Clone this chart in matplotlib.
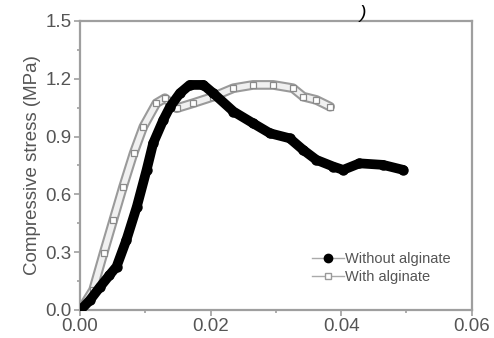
import matplotlib
matplotlib.use("Agg")
import matplotlib.pyplot as plt
from matplotlib.lines import Line2D

# Data
strain_without = [0.0001, 0.0015, 0.0031, 0.0045, 0.0056, 0.0071, 0.0087, 0.0102, 0.0112,
                  0.01275, 0.0138, 0.0153, 0.0168, 0.0189, 0.0204, 0.0235, 0.0265, 0.0291,
                  0.0321, 0.0342, 0.0362, 0.0388, 0.0403, 0.0428, 0.0464, 0.0495]
stress_without = [0.0, 0.05, 0.121, 0.18, 0.225, 0.363, 0.536, 0.727, 0.865,
                  0.986, 1.055, 1.125, 1.168, 1.168, 1.125, 1.03, 0.969, 0.917,
                  0.891, 0.830, 0.779, 0.744, 0.727, 0.761, 0.753, 0.727]

strain_with = [0.0001, 0.0020, 0.0036, 0.0051, 0.0066, 0.0082, 0.0097, 0.0117, 0.0130,
               0.0148, 0.0173, 0.0204, 0.0235, 0.0265, 0.0296, 0.0326, 0.0342, 0.0362, 0.0383]
stress_with = [0.0, 0.104, 0.294, 0.467, 0.640, 0.813, 0.951, 1.073, 1.099,
               1.047, 1.073, 1.107, 1.151, 1.168, 1.168, 1.151, 1.107, 1.090, 1.055]

series_labels = ["Without alginate", "With alginate"]
x_ticks = [0.00, 0.02, 0.04, 0.06]
x_ticklabels = ["0.00", "0.02", "0.04", "0.06"]
y_ticks = [0.0, 0.3, 0.6, 0.9, 1.2, 1.5]
y_ticklabels = ["0.0", "0.3", "0.6", "0.9", "1.2", "1.5"]

plt.rcParams['font.family'] = ['Liberation Sans', 'DejaVu Sans']
txt = "#555555"
axc = "#9f9f9f"

fig = plt.figure(figsize=(4.94, 3.38), dpi=100)
ax = fig.add_axes([0.162, 0.083, 0.793, 0.855])

# With alginate: gray-outlined open squares forming a band
ax.plot(strain_with, stress_with, color="#9a9a9a", lw=7, solid_capstyle="round", zorder=2)
ax.plot(strain_with, stress_with, color="#f0f0f0", lw=4, solid_capstyle="round", zorder=2.1)
ax.plot(strain_with, stress_with, ls="none", marker="s", ms=5, mfc="white", mec="#8a8a8a",
        mew=0.9, zorder=2.2)

# Without alginate: dense black filled circles
ax.plot(strain_without, stress_without, color="black", lw=7, solid_capstyle="round", zorder=3)
ax.plot(strain_without, stress_without, ls="none", marker="o", ms=6.5, color="black", zorder=3.1)

ax.set_xlim(0, 0.06)
ax.set_ylim(0, 1.5)
ax.set_xticks(x_ticks)
ax.set_xticklabels(x_ticklabels)
ax.set_yticks(y_ticks)
ax.set_yticklabels(y_ticklabels)
ax.set_xticks([0.01, 0.03, 0.05], minor=True)
ax.set_yticks([0.15, 0.45, 0.75, 1.05, 1.35], minor=True)
ax.tick_params(axis="both", which="major", direction="out", length=4, width=1.2,
               color=axc, labelcolor=txt, labelsize=13.5, pad=2)
ax.tick_params(axis="both", which="minor", direction="out", length=2.5, width=1.2, color=axc)
for s in ax.spines.values():
    s.set_color(axc)
    s.set_linewidth(1.6)
ax.set_ylabel("Compressive stress (MPa)", color=txt, fontsize=13.5, labelpad=3)

# legend
h1 = Line2D([], [], color="#aaaaaa", lw=1, marker="o", ms=6, mfc="black", mec="black")
h2 = Line2D([], [], color="#aaaaaa", lw=1, marker="s", ms=5, mfc="white", mec="#999999")
leg = ax.legend([h1, h2], series_labels, loc="lower right", bbox_to_anchor=(0.962, 0.068),
                frameon=False, fontsize=10.5, handlelength=2.2, handletextpad=0.1,
                labelspacing=0.3, borderaxespad=0)
for t in leg.get_texts():
    t.set_color(txt)

fig.text(0.735, 0.985, ")", fontsize=14, ha="center", va="top", style="italic", color="black")

fig.savefig("out.png", dpi=100)
